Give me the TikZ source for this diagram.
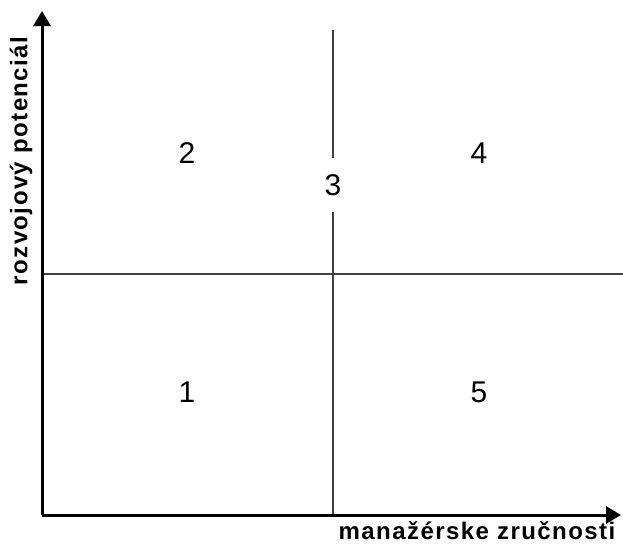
\documentclass[tikz,border=0pt]{standalone}
\usepackage{fontspec}
\setmainfont{Liberation Sans}
\usetikzlibrary{arrows.meta}
\tikzset{
  axis/.style={line width=3pt, -{Triangle[width=17pt,length=15pt]}},
  divider/.style={line width=1.5pt, draw=black!75},
  cell/.style={font=\fontsize{30}{32}\selectfont},
  axislabel/.style={font=\fontsize{24}{26}\selectfont\bfseries\addfontfeatures{LetterSpace=6}},
}
\begin{document}
\begin{tikzpicture}[x=1pt, y=-1pt]
  \useasboundingbox (0,0) rectangle (623,544);
  \coordinate (origin) at (42,515);
  \coordinate (ytip) at (42,11);
  \coordinate (xtip) at (621,515);
  \coordinate (vtop) at (333,30);
  \coordinate (vbot) at (333,515);
  \coordinate (hleft) at (42,274);
  \coordinate (hright) at (623,274);
  % quadrant labels
  \node[cell] (two) at (187,153) {2};
  \node[cell] (four) at (479,153) {4};
  \node[cell, minimum height=54pt, inner sep=0pt] (three) at (333,185) {3};
  \node[cell] (one) at (187,392) {1};
  \node[cell] (five) at (479,392) {5};
  % dividers
  \draw[divider] (vtop) -- (three.north);
  \draw[divider] (three.south) -- (vbot);
  \draw[divider] (hleft) -- (hright);
  % axes
  \draw[axis] (origin) -- (ytip);
  \draw[axis] (origin) -- (xtip);
  \node[axislabel, rotate=90] (ylab) at (21,161) {rozvojový potenciál};
  \node[axislabel] (xlab) at (477,531) {manažérske zručnosti};
\end{tikzpicture}
\end{document}
